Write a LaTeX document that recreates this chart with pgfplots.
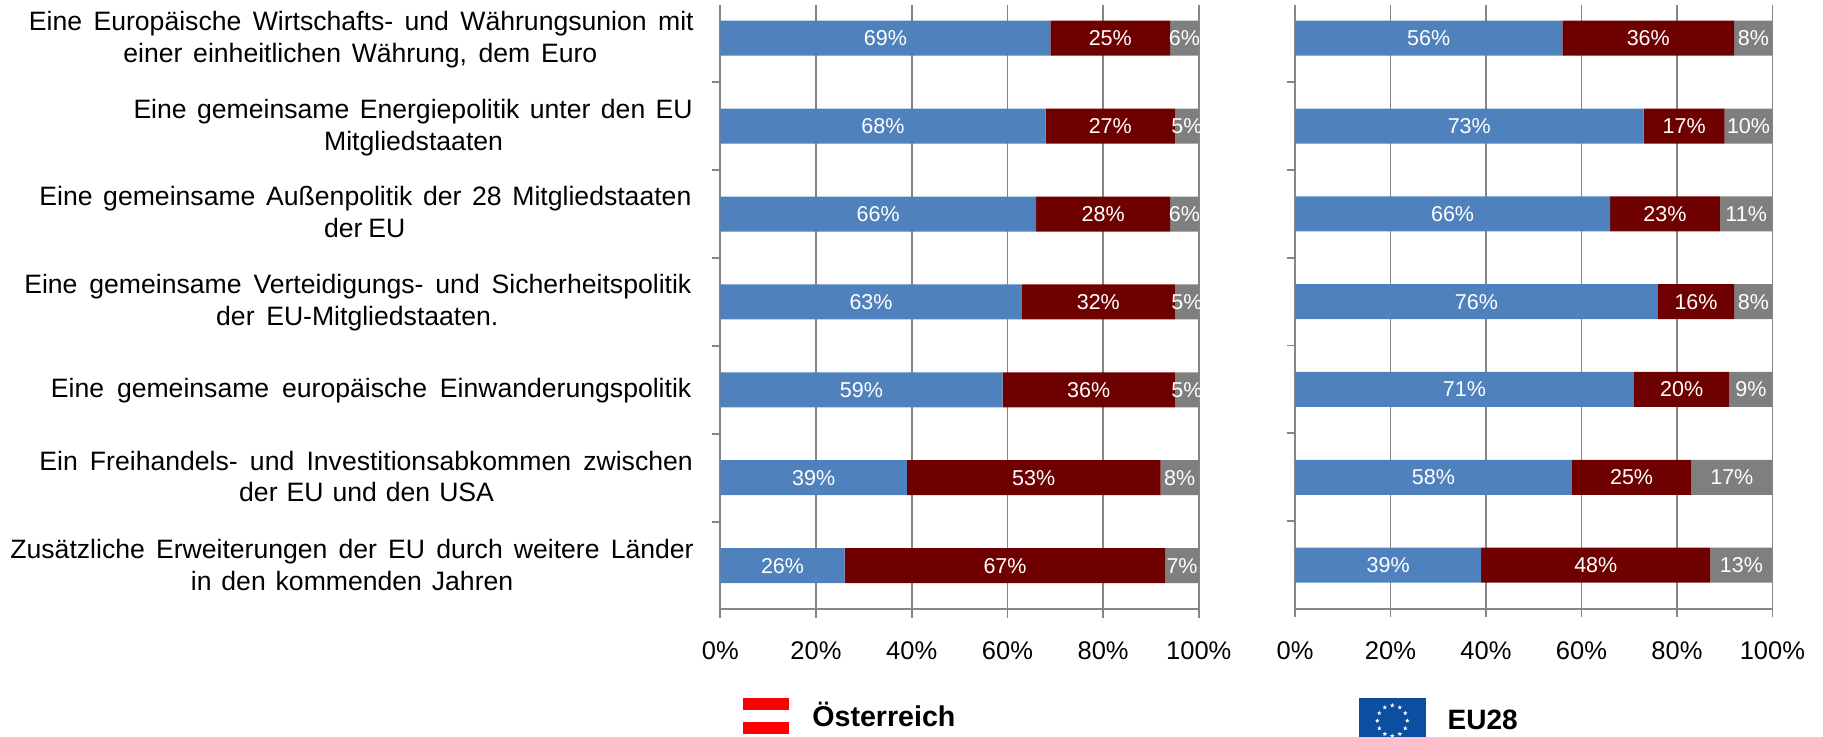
\documentclass[border=0pt]{standalone}
\usepackage{fontspec}
\setmainfont{Liberation Sans}
\usepackage{pgfplots}
\usepackage{pgfplotstable}
\pgfplotsset{compat=1.18}
\usetikzlibrary{shapes.geometric}
\pgfkeys{/pgf/number format/assume math mode=true}
\definecolor{cblue}{HTML}{4F81BD}
\definecolor{cred}{HTML}{6E0000}
\definecolor{cgray}{HTML}{7F7F7F}
\definecolor{cline}{HTML}{868686}
\definecolor{cflag}{HTML}{0B4EA2}
\pgfplotstableread{
y a b c
0 69 25 6
1 68 27 5
2 66 28 6
3 63 32 5
4 59 36 5
5 39 53 8
6 26 67 7
}\oesterreich
\pgfplotstableread{
y a b c
0 56 36 8
1 73 17 10
2 66 23 11
3 76 16 8
4 71 20 9
5 58 25 17
6 39 48 13
}\eu
\pgfplotsset{
  panel/.style={
    scale only axis,
    xbar stacked,
    bar width=17.5pt,
    bar shift=0pt,
    y dir=reverse,
    xmin=0,xmax=100,
    ymin=-0.378,ymax=6.497,
    clip=false,
    axis x line*=bottom,
    axis y line*=left,
    axis line style={cline,line width=0.9pt,-},
    xtick={0,20,40,60,80,100},
    xticklabels={0\%,20\%,40\%,60\%,80\%,100\%},
    ytick={0.5,1.5,2.5,3.5,4.5,5.5,6.5},
    yticklabels={},
    xmajorgrids=true,
    major grid style={cline,line width=0.9pt},
    tick style={cline,line width=0.9pt},
    tick align=outside,
    major tick length=4.2pt,
    xticklabel style={font=\fontsize{12.75pt}{15pt}\selectfont,anchor=base,yshift=-21pt},
    nodes near coords={\pgfmathprintnumber[fixed,precision=0]{\v}\%},
    nodes near coords style={anchor=center,text=white,inner sep=0pt,
      font=\fontsize{10.75pt}{13pt}\selectfont},
  },
  ser/.style={draw=none,fill=#1,line width=0pt},
}
\newcommand{\lab}[4]{\node[anchor=base west,inner sep=0pt,text=black,font=\fontsize{13.3pt}{15pt}\selectfont] at (#1,#3) {\makebox[\dimexpr#2pt*1/2-#1pt*1/2\relax][s]{#4}};}
\begin{document}
\begin{tikzpicture}[x=0.5pt,y=-0.5pt]
\path[use as bounding box] (0,0) rectangle (1823,737);
\begin{axis}[panel,at={(360.15pt,-304.65pt)},anchor=south west,width=239.25pt,height=302.15pt]
\addplot[ser=cblue,visualization depends on={\thisrow{a}\as\v}] table[x=a,y=y]{\oesterreich};
\addplot[ser=cred,visualization depends on={\thisrow{b}\as\v}] table[x=b,y=y]{\oesterreich};
\addplot[ser=cgray,visualization depends on={\thisrow{c}\as\v}] table[x=c,y=y]{\oesterreich};
\end{axis}
\begin{axis}[panel,at={(647.5pt,-304.35pt)},anchor=south west,width=238.7pt,height=301.85pt]
\addplot[ser=cblue,visualization depends on={\thisrow{a}\as\v}] table[x=a,y=y]{\eu};
\addplot[ser=cred,visualization depends on={\thisrow{b}\as\v}] table[x=b,y=y]{\eu};
\addplot[ser=cgray,visualization depends on={\thisrow{c}\as\v}] table[x=c,y=y]{\eu};
\end{axis}
\lab{28.5}{693.3}{30.7}{Eine Europäische Wirtschafts- und Währungsunion mit}
\lab{123}{596.9}{62.7}{einer einheitlichen Währung, dem Euro}
\lab{133.1}{692.4}{118.3}{Eine gemeinsame Energiepolitik unter den EU}
\lab{323.7}{502.8}{150.7}{Mitgliedstaaten}
\lab{39}{691}{206}{Eine gemeinsame Außenpolitik der 28 Mitgliedstaaten}
\lab{323.7}{405}{237.3}{der EU}
\lab{23.9}{691}{294}{Eine gemeinsame Verteidigungs- und Sicherheitspolitik}
\lab{215.8}{498}{326}{der EU-Mitgliedstaaten.}
\lab{50.5}{691}{397.7}{Eine gemeinsame europäische Einwanderungspolitik}
\lab{39}{692.4}{470}{Ein Freihandels- und Investitionsabkommen zwischen}
\lab{238.8}{493.6}{501.7}{der EU und den USA}
\lab{10}{693.3}{558.3}{Zusätzliche Erweiterungen der EU durch weitere Länder}
\lab{190.5}{512.9}{590}{in den kommenden Jahren}
% legend
\fill[red] (743,698) rectangle (789,733.7);
\fill[white] (743,710) rectangle (789,721.7);
\node[anchor=base west,inner sep=0pt,font=\fontsize{14.3pt}{16pt}\selectfont\bfseries] at (812,726.7) {Österreich};
\fill[cflag] (1359,698) rectangle (1425.7,737);
\foreach \a in {0,30,...,330}
  \node[star,star points=5,star point ratio=2.4,fill=white,draw=none,inner sep=0pt,minimum size=2.4pt] at ({1392.3+15*sin(\a)},{720.7-15.3*cos(\a)}) {};
\node[anchor=base west,inner sep=0pt,font=\fontsize{14pt}{16pt}\selectfont\bfseries] at (1447.3,729.3) {EU28};
\end{tikzpicture}
\end{document}
